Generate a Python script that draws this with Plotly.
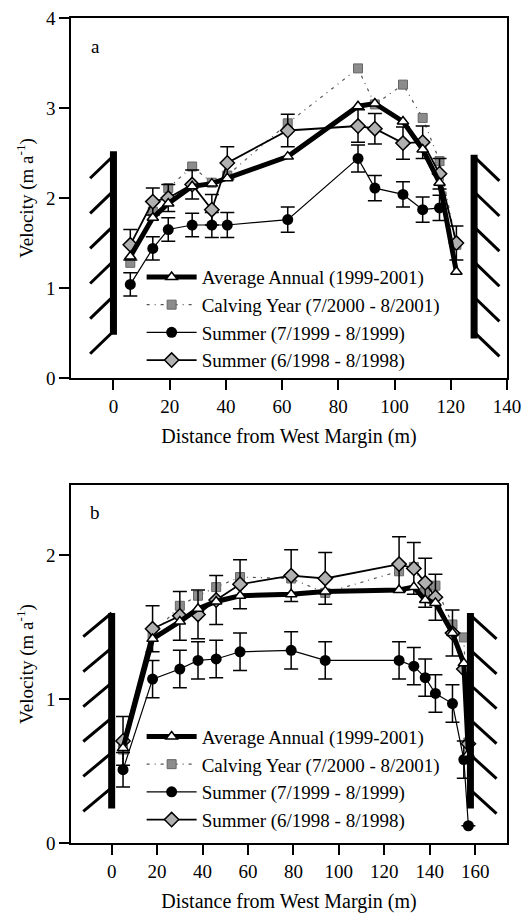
import plotly.graph_objects as go

# ---------------- data ----------------
# Panel a
xa = [6, 14, 19.5, 28, 35, 40.5, 62, 87, 93, 103, 110, 116, 122]
avg_a = [1.35, 1.78, 1.94, 2.13, 2.16, 2.22, 2.46, 3.02, 3.05, 2.85, 2.54, 2.17, 1.18]
calv_a = [1.28, 1.85, 2.11, 2.35, 2.17, 2.25, 2.83, 3.44, 3.04, 3.26, 2.89, 2.41, 1.48]
s99_a = [1.04, 1.44, 1.65, 1.70, 1.70, 1.70, 1.76, 2.44, 2.11, 2.04, 1.87, 1.89, None]
s99_a_err = [0.13, 0.13, 0.13, 0.13, 0.14, 0.14, 0.14, 0.15, 0.14, 0.14, 0.14, 0.14, 0]
s98_a = [1.48, 1.96, 2.00, 2.15, 1.87, 2.39, 2.75, 2.80, 2.77, 2.61, 2.62, 2.27, 1.50]
s98_a_err = [0.17, 0.15, 0.15, 0.16, 0.17, 0.18, 0.18, 0.18, 0.17, 0.18, 0.18, 0.17, 0.19]

# Panel b
xb = [5, 18, 30, 38, 46, 56.5, 79, 94, 126.5, 133, 138, 142.5, 150, 155, 157]
avg_b = [0.66, 1.42, 1.54, 1.63, 1.68, 1.72, 1.73, 1.75, 1.76, 1.78, 1.69, 1.67, 1.46, 1.25, 0.62]
calv_b = [0.65, 1.45, 1.65, 1.72, 1.78, 1.85, 1.84, 1.74, 1.89, 1.92, 1.75, 1.79, 1.52, 1.43, 0.70]
s99_b = [0.51, 1.14, 1.21, 1.27, 1.28, 1.33, 1.34, 1.27, 1.27, 1.23, 1.15, 1.04, 0.97, 0.58, 0.12]
s99_b_err = [0.12, 0.13, 0.13, 0.13, 0.13, 0.13, 0.13, 0.13, 0.13, 0.13, 0.13, 0.13, 0.13, 0.13, 0.0]
s98_b = [0.71, 1.49, 1.58, 1.59, 1.69, 1.80, 1.86, 1.84, 1.94, 1.91, 1.81, 1.71, 1.46, 1.21, 0.69]
s98_b_err = [0.17, 0.16, 0.17, 0.17, 0.17, 0.17, 0.18, 0.18, 0.19, 0.18, 0.17, 0.16, 0.16, 0.0, 0.0]

names = ["Average Annual (1999-2001)", "Calving Year (7/2000 - 8/2001)",
         "Summer (7/1999 - 8/1999)", "Summer (6/1998 - 8/1998)"]

xticks_a = [0, 20, 40, 60, 80, 100, 120, 140]
xticks_b = [0, 20, 40, 60, 80, 100, 120, 140, 160]
yticks_a = [0, 1, 2, 3, 4]
yticks_b = [0, 1, 2]

FONT = "Liberation Serif, Times New Roman, serif"

fig = go.Figure()


def add_panel(xs, avg, calv, s99, s99e, s98, s98e, xaxis, yaxis, legend):
    common = dict(xaxis=xaxis, yaxis=yaxis, legend=legend, mode="lines+markers")
    fig.add_trace(go.Scatter(
        x=xs, y=calv, name=names[1], legendrank=2,
        line=dict(color="#555555", width=1.2, dash="3px,5px,1px,5px"),
        marker=dict(symbol="square", size=9, color="#8c8c8c",
                    line=dict(color="#666666", width=1)),
        **common))
    fig.add_trace(go.Scatter(
        x=xs, y=s99, name=names[2], legendrank=3,
        line=dict(color="black", width=1.2),
        marker=dict(symbol="circle", size=11, color="black"),
        error_y=dict(type="data", array=s99e, color="black", thickness=1.5, width=7),
        **common))
    fig.add_trace(go.Scatter(
        x=xs, y=s98, name=names[3], legendrank=4,
        line=dict(color="black", width=1.8),
        marker=dict(symbol="diamond", size=11, color="#b0b0b0",
                    line=dict(color="black", width=1.5)),
        error_y=dict(type="data", array=s98e, color="black", thickness=1.5, width=7),
        **common))
    fig.add_trace(go.Scatter(
        x=xs, y=avg, name=names[0], legendrank=1,
        line=dict(color="black", width=5),
        marker=dict(symbol="triangle-up", size=10, color="white",
                    line=dict(color="black", width=1.5)),
        **common))


add_panel(xa, avg_a, calv_a, s99_a, s99_a_err, s98_a, s98_a_err, "x", "y", "legend")
add_panel(xb, avg_b, calv_b, s99_b, s99_b_err, s98_b, s98_b_err, "x2", "y2", "legend2")

# ---- valley walls (decorative) ----
walls = [
    # xref, yref, wall x, y0, y1, side, first hatch top, spacing, dx, dy
    ("x", "y", 0.0, 0.48, 2.52, -1, 2.47, 0.39, 8.3, 0.25),
    ("x", "y", 128.3, 0.44, 2.48, 1, 2.46, 0.39, 9.0, 0.27),
    ("x2", "y2", 0.0, 0.24, 1.60, -1, 1.60, 0.243, 12.5, 0.165),
    ("x2", "y2", 157.9, 0.24, 1.60, 1, 1.585, 0.243, 11.5, 0.165),
]
shapes = []
for xr, yr, wx, y0, y1, side, htop, sp, dx, dy in walls:
    shapes.append(dict(type="line", xref=xr, yref=yr, x0=wx, x1=wx, y0=y0, y1=y1,
                       line=dict(color="black", width=7), layer="above"))
    for i in range(6):
        yt = htop - i * sp
        shapes.append(dict(type="line", xref=xr, yref=yr,
                           x0=wx, y0=yt, x1=wx + side * dx, y1=yt - dy,
                           line=dict(color="black", width=3), layer="above"))

axis_common = dict(showline=True, linecolor="black", linewidth=1.5, mirror=True,
                   ticks="outside", ticklen=10, tickwidth=1.5, tickcolor="black",
                   showgrid=False, zeroline=False, automargin=False,
                   ticklabeloverflow="allow",
                   tickfont=dict(family=FONT, size=19, color="black"))

xtitle = dict(text="Distance from West Margin (m)", standoff=13,
              font=dict(family=FONT, size=20))
ytitle = dict(text="Velocity (m a<sup>-1</sup>)", standoff=7,
              font=dict(family=FONT, size=19))

fig.update_layout(
    width=522, height=917,
    margin=dict(l=71, r=15, t=18, b=74),
    plot_bgcolor="white", paper_bgcolor="white",
    font=dict(family=FONT, size=19, color="black"),
    showlegend=True,
    xaxis=dict(domain=[0, 1], anchor="y", range=[-15.1, 140], tickvals=xticks_a,
               title=xtitle, **axis_common),
    yaxis=dict(domain=[0.5636, 1], anchor="x", range=[0, 4], tickvals=yticks_a,
               title=ytitle, **axis_common),
    xaxis2=dict(domain=[0, 1], anchor="y2", range=[-17.9, 174], tickvals=xticks_b,
                title=xtitle, **axis_common),
    yaxis2=dict(domain=[0, 0.4339], anchor="x2", range=[0, 2.49], tickvals=yticks_b,
                title=ytitle, **axis_common),
    legend=dict(x=0.162, y=0.709, xanchor="left", yanchor="top",
                bgcolor="rgba(0,0,0,0)", itemwidth=50,
                font=dict(family=FONT, size=19), tracegroupgap=0),
    legend2=dict(x=0.162, y=0.152, xanchor="left", yanchor="top",
                 bgcolor="rgba(0,0,0,0)", itemwidth=50,
                 font=dict(family=FONT, size=19), tracegroupgap=0),
    shapes=shapes,
    annotations=[
        dict(text="a", x=-6.5, y=3.68, xref="x", yref="y", showarrow=False,
             font=dict(family=FONT, size=19)),
        dict(text="b", x=-7.4, y=2.30, xref="x2", yref="y2", showarrow=False,
             font=dict(family=FONT, size=19)),
    ],
)

# remove the default page margin so the figure fills the window exactly
fig.write_html("out.html",
               config={"displayModeBar": False},
               post_script="document.body.style.margin='0';"
                           "document.body.style.overflow='hidden';")
